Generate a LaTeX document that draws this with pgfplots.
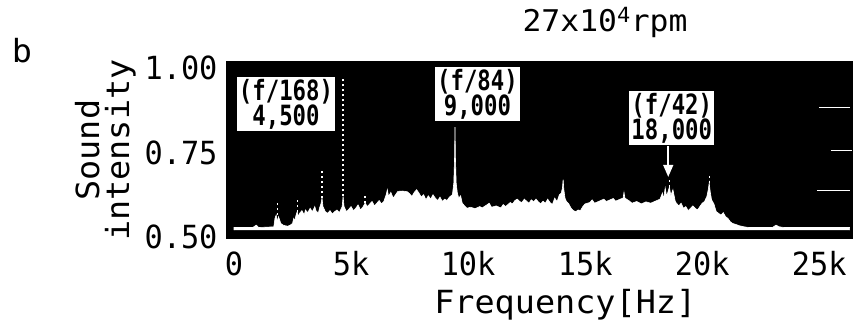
\documentclass[border=0pt]{standalone}
\usepackage{pgfplots}
\pgfplotsset{compat=1.18}
\usepackage{fontspec}
\usetikzlibrary{arrows.meta}
\newfontfamily\tickfont[FakeStretch=0.95]{DejaVu Sans Mono}
\newfontfamily\labfont[FakeStretch=1.05]{DejaVu Sans Mono}
\newfontfamily\annfont[FakeStretch=0.8]{DejaVu Sans Mono Bold}
\begin{document}
\begin{tikzpicture}
\begin{axis}[
  scale only axis,
  width=625bp, height=176bp,
  xmin=-300, xmax=26400,
  ymin=0.497, ymax=1.018,
  scaled x ticks=false,
  axis background/.style={fill=black},
  axis line style={black, line width=1bp},
  major tick length=0pt,
  xtick={0,5000,10000,15000,20000,25000},
  xticklabels={0,5k,10k,15k,20k,25k},
  ytick={0.5,0.75,1.0},
  yticklabels={0.50,0.75,1.00},
  xticklabel style={font=\tickfont\fontsize{32}{32}\selectfont, yshift=-10bp},
  yticklabel style={font=\tickfont\fontsize{32}{32}\selectfont, xshift=-6bp},
  clip=false,
]
% spectrum (white on black)
\addplot[fill=white, draw=white, line width=0.6bp] coordinates {
(0,0.520) (0,0.528) (800,0.528) (950,0.535) (1050,0.528) (1700,0.530)
(1750,0.555) (1800,0.565) (1850,0.545) (1900,0.560) (1950,0.550) (2000,0.540)
(2100,0.535) (2200,0.533) (2300,0.532) (2400,0.535) (2500,0.540) (2550,0.555)
(2600,0.548) (2650,0.565) (2700,0.575) (2750,0.560) (2800,0.570) (2900,0.578)
(3000,0.565) (3050,0.580) (3150,0.572) (3250,0.585) (3350,0.575) (3450,0.590)
(3500,0.578) (3600,0.570) (3650,0.585) (3720,0.600) (3760,0.615) (3800,0.590)
(3900,0.575) (4000,0.570) (4100,0.578) (4200,0.568) (4300,0.575) (4400,0.580)
(4500,0.572) (4620,0.590) (4660,0.620) (4700,0.590) (4800,0.575) (4900,0.582)
(5000,0.590) (5100,0.578) (5200,0.585) (5300,0.595) (5400,0.580) (5500,0.588)
(5600,0.600) (5700,0.590) (5800,0.598) (5900,0.605) (6000,0.592) (6100,0.600)
(6200,0.608) (6300,0.598) (6400,0.605) (6500,0.625) (6550,0.640) (6600,0.620)
(6700,0.632) (6800,0.615) (6900,0.625) (7000,0.635) (7200,0.636) (7400,0.634)
(7500,0.628) (7600,0.620) (7700,0.632) (7800,0.640) (7900,0.630) (8000,0.618)
(8100,0.625) (8200,0.610) (8300,0.622) (8400,0.612) (8500,0.625) (8600,0.615)
(8700,0.608) (8800,0.618) (8900,0.605) (9000,0.612) (9100,0.608) (9200,0.618)
(9330,0.625) (9390,0.660) (9420,0.730) (9440,0.825) (9460,0.730) (9490,0.660)
(9540,0.630) (9600,0.615) (9680,0.622) (9750,0.600) (9850,0.592) (9950,0.585)
(10100,0.588) (10300,0.584) (10500,0.590) (10600,0.586) (10800,0.595) (10900,0.600)
(11000,0.588) (11200,0.592) (11400,0.586) (11500,0.596) (11600,0.590) (11800,0.602)
(11900,0.598) (12000,0.608) (12100,0.612) (12200,0.605) (12300,0.602) (12400,0.612)
(12500,0.606) (12600,0.600) (12700,0.610) (12800,0.604) (12900,0.612) (13000,0.604)
(13100,0.598) (13200,0.606) (13300,0.600) (13400,0.612) (13500,0.602) (13600,0.596)
(13700,0.615) (13800,0.605) (13900,0.625) (13980,0.630) (14030,0.645) (14060,0.670)
(14090,0.640) (14140,0.615) (14200,0.605) (14300,0.598) (14400,0.585) (14500,0.578)
(14600,0.575) (14700,0.580) (14800,0.578) (14900,0.590) (15000,0.598) (15200,0.602)
(15300,0.610) (15400,0.600) (15600,0.606) (15800,0.612) (15900,0.605) (16000,0.608)
(16200,0.614) (16300,0.606) (16500,0.612) (16620,0.615) (16660,0.632) (16700,0.615)
(16900,0.606) (17000,0.600) (17200,0.605) (17400,0.598) (17600,0.604) (17800,0.600)
(18000,0.606) (18200,0.612) (18300,0.630) (18350,0.612) (18420,0.645) (18480,0.620)
(18600,0.648) (18660,0.622) (18750,0.640) (18850,0.605) (18900,0.600) (19000,0.592)
(19100,0.600) (19200,0.585) (19300,0.590) (19400,0.578) (19500,0.585) (19600,0.592)
(19700,0.585) (19800,0.580) (19900,0.590) (20000,0.600) (20100,0.605) (20200,0.620)
(20260,0.640) (20300,0.660) (20340,0.635) (20400,0.610) (20500,0.598) (20600,0.575)
(20700,0.570) (20800,0.565) (20900,0.572) (21000,0.560) (21100,0.555) (21200,0.545)
(21300,0.540) (21400,0.538) (21600,0.533) (21800,0.530) (22000,0.528) (23000,0.528)
(23150,0.535) (23300,0.530) (23500,0.528) (24500,0.528) (26300,0.528) (26300,0.520)
};
% dotted spikes
\addplot[white, line width=2bp, dash pattern=on 2bp off 3bp] coordinates {(4660,0.62) (4660,0.97)};
\addplot[white, line width=1.6bp, dash pattern=on 2bp off 3bp] coordinates {(3760,0.615) (3760,0.70)};
\addplot[white, line width=1.4bp, dash pattern=on 2bp off 3bp] coordinates {(1850,0.565) (1850,0.60)};
\addplot[white, line width=1.4bp, dash pattern=on 2bp off 3bp] coordinates {(2700,0.575) (2700,0.615)};
\addplot[white, line width=1.4bp, dash pattern=on 2bp off 3bp] coordinates {(5600,0.60) (5600,0.62)};
\addplot[white, line width=1.4bp, dash pattern=on 2bp off 3bp] coordinates {(18600,0.648) (18600,0.668)};
\addplot[white, line width=1.4bp, dash pattern=on 2bp off 3bp] coordinates {(20300,0.66) (20300,0.68)};
% right-edge white dashes
\addplot[white, line width=1bp] coordinates {(25000,0.882) (26300,0.882)};
\addplot[white, line width=1bp] coordinates {(25500,0.757) (26400,0.757)};
\addplot[white, line width=1bp] coordinates {(24900,0.639) (26300,0.639)};
% annotation boxes
\node[fill=white, text=black, align=center, inner sep=2bp,
  font=\annfont\fontsize{28}{22}\selectfont] at (axis cs:2220,0.893) {(f/168)\\4,500};
\node[fill=white, text=black, align=center, inner sep=2bp,
  font=\annfont\fontsize{28}{22}\selectfont] at (axis cs:10400,0.923) {(f/84)\\9,000};
\node[fill=white, text=black, align=center, inner sep=2bp,
  font=\annfont\fontsize{28}{22}\selectfont] at (axis cs:18700,0.852) {(f/42)\\18,000};
\draw[white, line width=1.5bp, -{Triangle[length=12bp,width=10bp]}] (axis cs:18550,0.768) -- (axis cs:18550,0.678);
% titles and labels
\node[font=\labfont\fontsize{30}{30}\selectfont, text=black] at (axis cs:15850,1.136) {27x10\textsuperscript{4}rpm};
\node[font=\labfont\fontsize{32}{32}\selectfont, text=black] at (axis cs:14150,0.299) {Frequency[Hz]};
\node[font=\labfont\fontsize{32}{30}\selectfont, text=black, rotate=90, align=center] at (axis cs:-5500,0.757) {Sound\\intensity};
\node[font=\labfont\fontsize{32}{32}\selectfont, text=black] at (axis cs:-9060,1.053) {b};
\coordinate (ll) at (rel axis cs:0,0);
\coordinate (ur) at (rel axis cs:1,1);
\end{axis}
\pgfresetboundingbox
\path[use as bounding box] ([xshift=-227bp,yshift=-91bp]ll) rectangle ([xshift=6bp,yshift=62bp]ur);
\end{tikzpicture}
\end{document}
